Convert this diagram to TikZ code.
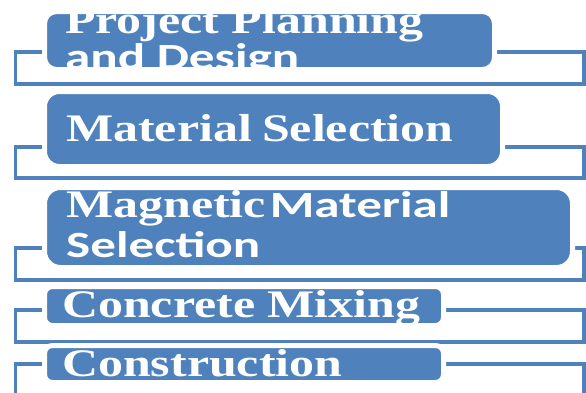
\documentclass[tikz,border=0pt]{standalone}
\usepackage{fontspec}
\newfontfamily\stageserif{Liberation Serif}
\newfontfamily\stagesans{Carlito}
\usetikzlibrary{positioning}
\definecolor{stageblue}{HTML}{4F81BD}
\newcommand{\widetext}[1]{\scalebox{1.28}[1]{#1}}
\newcommand{\widesans}[1]{\scalebox{1.38}[1]{#1}}

\begin{document}
\begin{tikzpicture}[x=1pt, y=-1pt,
    stage/.style={rectangle, rounded corners=#1, draw=white, line width=5pt, fill=stageblue, inner sep=0pt},
    stage/.default=10pt,
    bracket/.style={draw=stageblue, line width=3.6pt},
    serifline/.style={anchor=base west, inner sep=0pt, text=white, font=\stageserif\bfseries\fontsize{39}{40}\selectfont},
    sansline/.style={anchor=base west, inner sep=0pt, text=white, font=\stagesans\bfseries\fontsize{37}{40}\selectfont}]
    \useasboundingbox (0,0) rectangle (586,392);
    \clip (0,0) rectangle (586,392);
    \path[bracket] (15.5,52) rectangle (584,84);
    \path[bracket] (15.5,147) rectangle (584,178);
    \path[bracket] (15.5,248) rectangle (584,280);
    \path[bracket] (15.5,310) rectangle (584,342);
    \path[bracket] (15.5,364) rectangle (584,420);
    \node[stage=12pt, minimum width=450pt, minimum height=58pt] (plan) at (269.5,40.5) {};
    \node[stage=15pt, minimum width=458pt, minimum height=75pt] (material) at (273.5,129) {};
    \node[stage=16pt, minimum width=528pt, minimum height=80pt] (magnetic) at (308.5,227.5) {};
    \node[stage=8pt, minimum width=399pt, minimum height=39pt] (mixing) at (244,306) {};
    \node[stage=8pt, minimum width=399pt, minimum height=37pt] (build) at (244,364) {};
    \node[serifline] (plan1) at (65,33) {\widetext{Project Planning}};
    \node[sansline] (plan2) at (65,69) {\widesans{and Design}};
    \node[serifline] (material1) at (66,141) {\widetext{Material\hspace{8pt}Selection}};
    \node[serifline] (magnetic1) at (66,217) {\widetext{Magnetic}\hspace{4pt}\widesans{\stagesans\fontsize{37}{40}\selectfont Material}};
    \node[sansline] (magnetic2) at (66,257) {\widesans{Selection}};
    \node[serifline] (mixing1) at (62,317) {\widetext{Concrete Mixing}};
    \node[serifline] (build1) at (62,376) {\widetext{Construction}};
\end{tikzpicture}
\end{document}
